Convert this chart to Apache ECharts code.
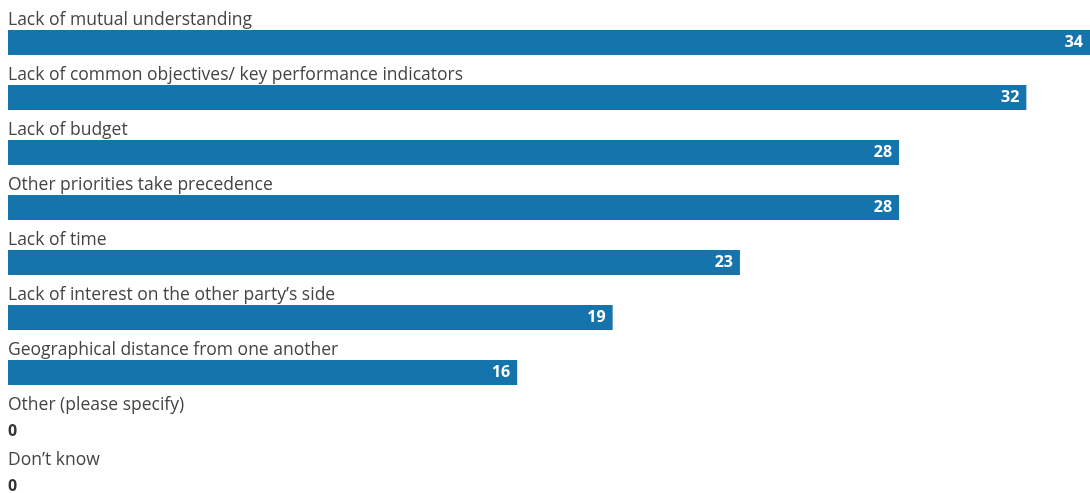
<!DOCTYPE html>
<html><head><meta charset="utf-8">
<script src="https://cdn.jsdelivr.net/npm/echarts@6/dist/echarts.min.js"></script>
<style>html,body{margin:0;padding:0;background:#fff;overflow:hidden}#c{width:1090px;height:510px}</style>
</head><body><div id="c"></div>
<script>
const categories = [
  "Lack of mutual understanding",
  "Lack of common objectives/ key performance indicators",
  "Lack of budget",
  "Other priorities take precedence",
  "Lack of time",
  "Lack of interest on the other party\u2019s side",
  "Geographical distance from one another",
  "Other (please specify)",
  "Don\u2019t know"
];
const values = [34, 32, 28, 28, 23, 19, 16, 0, 0];

const FONT = "'Open Sans', sans-serif";
const chart = echarts.init(document.getElementById('c'));
chart.setOption({
  animation: false,
  grid: { left: 8, right: 0, top: 15, bottom: 0 },
  xAxis: { type: 'value', min: 0, max: 34, show: false },
  yAxis: {
    type: 'category', data: categories, inverse: true, show: false
  },
  series: [{
    type: 'bar', barWidth: 25, z: 2,
    itemStyle: { color: '#1474ab' },
    data: values.map(v => v === 0 ? {
      value: v,
      label: { position: 'right', distance: 0, offset: [0, 4], color: '#333' }
    } : v),
    label: {
      show: true, position: 'insideRight', distance: 7,
      color: '#fff', fontFamily: FONT, fontWeight: 'bold', fontSize: 16
    }
  }, {
    type: 'bar', barWidth: 25, barGap: '-100%', z: 3, silent: true,
    itemStyle: { color: 'rgba(0,0,0,0)' },
    data: values,
    label: {
      show: true, position: [0, -1], align: 'left', verticalAlign: 'bottom',
      formatter: p => categories[p.dataIndex],
      color: '#444', fontFamily: FONT, fontSize: 17.5
    }
  }]
});
</script></body></html>
